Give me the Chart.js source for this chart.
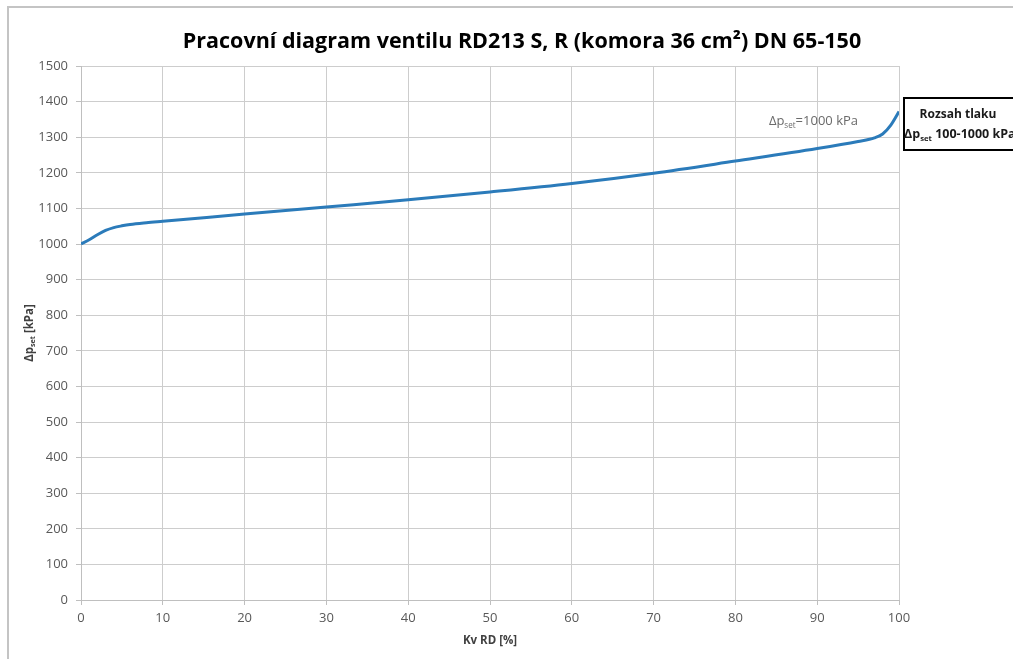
<!DOCTYPE html>
<html><head><meta charset="utf-8">
<script src="https://cdn.jsdelivr.net/npm/chart.js@4/dist/chart.umd.min.js"></script>
<style>html,body{margin:0;padding:0;background:#fff;overflow:hidden}#wrap{position:absolute;left:0;top:0;width:1013px;height:659px}</style>
</head><body><div id="wrap"><canvas id="c"></canvas></div>
<script>
// ---- data ----
const kvPercent = [0, 1, 2, 3, 4, 5, 6, 8, 10, 15, 20, 30, 40, 50, 60, 70, 80, 90, 95, 97, 98, 99, 100];
const dpSet     = [1000, 1012, 1026, 1038, 1046, 1051, 1055, 1060, 1064, 1074, 1084, 1104, 1124, 1146, 1170, 1199, 1233, 1268, 1288, 1298, 1309, 1334, 1372];
const xTickValues = [0, 10, 20, 30, 40, 50, 60, 70, 80, 90, 100];
const yMajorStep = 100;
const yMinorStep = 50;
const yMin = 0, yMax = 1500;
const chartTitle = 'Pracovní diagram ventilu RD213 S, R (komora 36 cm²) DN 65-150';
const xAxisTitle = 'Kv RD [%]';
const yAxisTitleParts = [{t: 'Δp'}, {t: 'set', sub: true}, {t: ' [kPa]'}];
const seriesLabelParts = [{t: 'Δp'}, {t: 'set', sub: true}, {t: '=1000 kPa'}];
const boxLine1 = 'Rozsah tlaku';
const boxLine2Parts = [{t: 'Δp'}, {t: 'set', sub: true}, {t: ' 100-1000 kPa'}];

const points = kvPercent.map((x, i) => ({x: x, y: dpSet[i]}));

const W = 1013, H = 659;
const AREA = {left: 81, right: 899, top: 66, bottom: 600};
const tickFont = '"Open Sans", "Liberation Sans", sans-serif';
const boldFont = '"Open Sans", "Liberation Sans", sans-serif';

function partsWidth(ctx, parts, size, weight, family) {
  let w = 0;
  for (const p of parts) {
    ctx.font = weight + ' ' + (p.sub ? size * 0.62 : size) + 'px ' + family;
    w += ctx.measureText(p.t).width;
  }
  return w;
}
function drawParts(ctx, parts, x, y, size, weight, family, color, align) {
  const w = partsWidth(ctx, parts, size, weight, family);
  let cx = align === 'center' ? x - w / 2 : (align === 'right' ? x - w : x);
  ctx.fillStyle = color;
  ctx.textBaseline = 'alphabetic';
  ctx.textAlign = 'left';
  for (const p of parts) {
    const s = p.sub ? size * 0.62 : size;
    ctx.font = weight + ' ' + s + 'px ' + family;
    ctx.fillText(p.t, cx, p.sub ? y + size * 0.2 : y);
    cx += ctx.measureText(p.t).width;
  }
}

const decor = {
  id: 'decor',
  beforeDraw(chart) {
    const ctx = chart.ctx;
    ctx.save();
    ctx.fillStyle = '#fff';
    ctx.fillRect(0, 0, W, H);
    ctx.strokeStyle = '#c4c4c4';
    ctx.lineWidth = 2;
    ctx.beginPath();
    ctx.moveTo(8, H + 5); ctx.lineTo(8, 7); ctx.lineTo(W + 5, 7);
    ctx.stroke();
    ctx.restore();
  },
  afterDraw(chart) {
    const ctx = chart.ctx;
    ctx.save();
    let size = 22;
    ctx.font = 'bold ' + size + 'px ' + boldFont;
    let w = ctx.measureText(chartTitle).width;
    size = Math.min(26, Math.max(16, size * 679 / w));
    ctx.font = 'bold ' + size + 'px ' + boldFont;
    ctx.fillStyle = '#000';
    ctx.textAlign = 'center';
    ctx.textBaseline = 'alphabetic';
    ctx.fillText(chartTitle, 522, 48);

    ctx.font = 'bold 11.5px ' + boldFont;
    ctx.fillStyle = '#404040';
    ctx.fillText(xAxisTitle, (AREA.left + AREA.right) / 2, 644);

    ctx.save();
    ctx.translate(33, (AREA.top + AREA.bottom) / 2);
    ctx.rotate(-Math.PI / 2);
    drawParts(ctx, yAxisTitleParts, 0, 0, 11.5, 'bold', boldFont, '#404040', 'center');
    ctx.restore();

    drawParts(ctx, seriesLabelParts, 858, 125, 13, 'normal', tickFont, '#6a6a6a', 'right');

    ctx.strokeStyle = '#000';
    ctx.lineWidth = 2;
    ctx.strokeRect(904, 98, 130, 52);
    ctx.font = 'bold 12px ' + boldFont;
    ctx.fillStyle = '#1a1a1a';
    ctx.textAlign = 'center';
    ctx.fillText(boxLine1, 958, 118);
    drawParts(ctx, boxLine2Parts, 904, 138, 12.5, 'bold', boldFont, '#1a1a1a', 'left');
    ctx.restore();
  }
};

new Chart(document.getElementById('c'), {
  type: 'line',
  data: {
    datasets: [{
      data: points,
      borderColor: '#2b7bba',
      borderWidth: 3,
      pointRadius: 0,
      fill: false,
      cubicInterpolationMode: 'monotone'
    }]
  },
  options: {
    responsive: true,
    maintainAspectRatio: false,
    animation: false,
    layout: {padding: {left: 0, top: AREA.top, right: W - AREA.right, bottom: 0}},
    plugins: {legend: {display: false}, title: {display: false}, tooltip: {enabled: false}},
    scales: {
      x: {
        type: 'linear', min: 0, max: 100,
        afterBuildTicks(s) { s.ticks = xTickValues.map(v => ({value: v})); },
        afterFit(s) { s.height = H - AREA.bottom; },
        ticks: {color: '#595959', font: {family: tickFont, size: 13}, padding: 5, maxRotation: 0},
        grid: {color: '#cdcdcd', lineWidth: 1, tickLength: 5, tickColor: '#bfbfbf'},
        border: {color: '#bfbfbf', width: 1}
      },
      y: {
        min: yMin, max: yMax,
        afterBuildTicks(s) {
          const t = [];
          for (let v = yMin; v <= yMax; v += yMinorStep) t.push({value: v});
          s.ticks = t;
        },
        afterFit(s) { s.width = AREA.left; },
        ticks: {
          color: '#595959', font: {family: tickFont, size: 13}, padding: 8,
          callback: v => (v % yMajorStep === 0 ? String(v) : '')
        },
        grid: {
          color: c => (c.tick && c.tick.value % yMajorStep === 0 ? '#cdcdcd' : '#e9e9e9'),
          tickColor: c => (c.tick && c.tick.value % yMajorStep === 0 ? '#bfbfbf' : 'rgba(0,0,0,0)'),
          lineWidth: 1, tickLength: 5
        },
        border: {color: '#bfbfbf', width: 1}
      }
    }
  },
  plugins: [decor]
});
</script>
</body></html>
